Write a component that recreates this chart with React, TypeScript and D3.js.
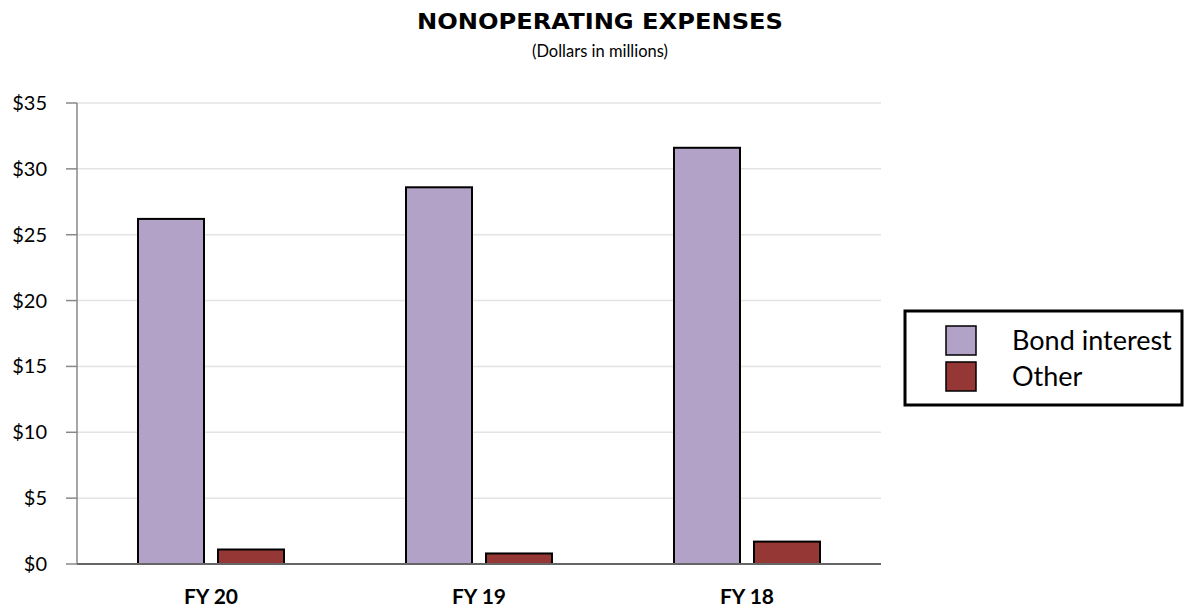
import React from "react";
import * as d3 from "d3";

const categories = ["FY 20", "FY 19", "FY 18"];
const seriesNames = ["Bond interest", "Other"];
const bondInterest = [26.2, 28.6, 31.6];
const other = [1.1, 0.8, 1.7];
const yTicks = [0, 5, 10, 15, 20, 25, 30, 35];
const colors = ["#b3a2c7", "#953735"];

export default function App() {
  const width = 1186;
  const height = 609;
  const left = 77;
  const right = 881;
  const top = 103;
  const bottom = 564;

  const x = d3.scaleBand<string>().domain(categories).range([left, right]).paddingInner(0).paddingOuter(0);
  const y = d3.scaleLinear().domain([0, 35]).range([bottom, top]);
  const barW = 66;
  const gap = 14;
  const series = [bondInterest, other];
  const font = "Lato, 'Open Sans', sans-serif";

  return (
    <svg width={width} height={height} style={{ position: "absolute", left: 0, top: 0 }}>
      <rect x={0} y={0} width={width} height={height} fill="#fff" />
      <text x={600} y={29} textAnchor="middle" fontFamily="'DejaVu Sans', sans-serif" fontWeight="bold" fontSize={22} fill="#000" textLength={366} lengthAdjust="spacingAndGlyphs">
        NONOPERATING EXPENSES
      </text>
      <text x={600} y={57} textAnchor="middle" fontFamily={font} fontSize={16.5} fill="#000">
        (Dollars in millions)
      </text>
      {yTicks.map((t) => (
        <g key={t}>
          {t > 0 && <line x1={left} x2={right} y1={y(t)} y2={y(t)} stroke="#e3e3e3" strokeWidth={1.5} />}
          <line x1={66} x2={left} y1={y(t)} y2={y(t)} stroke="#888" strokeWidth={1.5} />
          <text x={47} y={y(t)} dy="0.35em" textAnchor="end" fontFamily={font} fontSize={20} fill="#000">
            ${t}
          </text>
        </g>
      ))}
      <line x1={left} x2={left} y1={top} y2={bottom} stroke="#888" strokeWidth={1.5} />
      {categories.map((c, i) => {
        const cx = (x(c) as number) + x.bandwidth() / 2;
        return (
          <g key={c}>
            {series.map((s, j) => {
              const bx = j === 0 ? cx - gap / 2 - barW : cx + gap / 2;
              return (
                <rect
                  key={j}
                  x={bx}
                  y={y(s[i])}
                  width={barW}
                  height={bottom - y(s[i])}
                  fill={colors[j]}
                  stroke="#000"
                  strokeWidth={2}
                />
              );
            })}
            <text x={cx} y={604} textAnchor="middle" fontFamily={font} fontWeight="bold" fontSize={21} fill="#000">
              {c}
            </text>
          </g>
        );
      })}
      <line x1={left} x2={right} y1={bottom} y2={bottom} stroke="#666" strokeWidth={2} />
      <rect x={905} y={311} width={277} height={94} fill="#fff" stroke="#000" strokeWidth={3} />
      {seriesNames.map((n, j) => (
        <g key={n}>
          <rect x={946} y={326 + j * 36} width={30} height={29} fill={colors[j]} stroke="#000" strokeWidth={1.5} />
          <text x={1012} y={341 + j * 36} dy="0.35em" fontFamily={font} fontSize={27} fill="#000">
            {n}
          </text>
        </g>
      ))}
    </svg>
  );
}
